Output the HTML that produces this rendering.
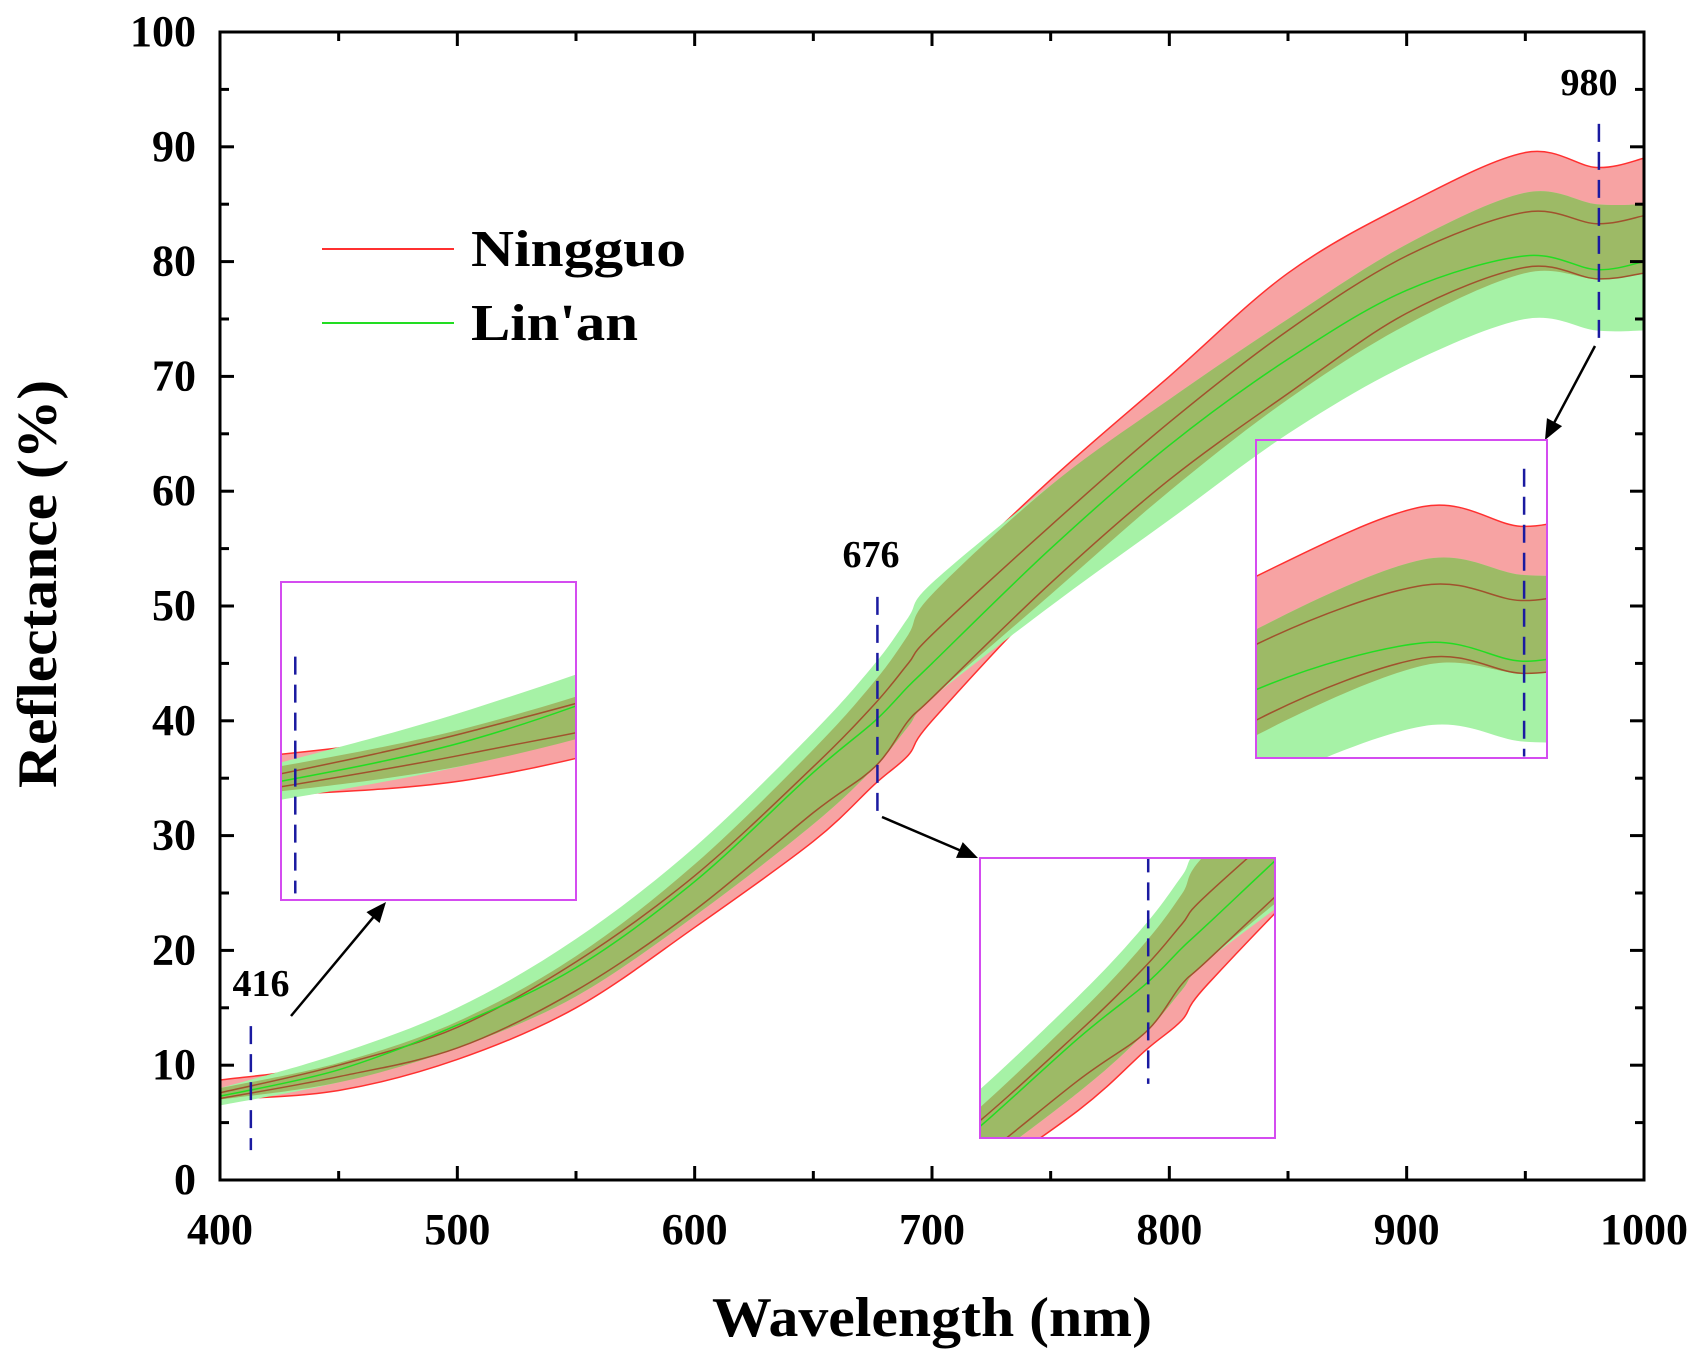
<!DOCTYPE html>
<html><head><meta charset="utf-8">
<style>
html,body{margin:0;padding:0;background:#fff;overflow:hidden;width:1704px;height:1360px;}
svg#chart{display:block;overflow:hidden;font-family:"Liberation Serif",serif;font-weight:bold;}
</style></head>
<body>
<svg id="chart" width="1704" height="1360" viewBox="0 0 1704 1360" xmlns="http://www.w3.org/2000/svg">
<defs>
<g id="marks"></g>
</defs>
<use href="#marks"/>
<g id="axes"></g>
<g id="insets"></g>
<g id="legend">
 <line x1="322" y1="249" x2="454" y2="249" stroke="#ff3030" stroke-width="2"/>
 <text x="471" y="266" font-size="52" textLength="215" lengthAdjust="spacingAndGlyphs">Ningguo</text>
 <line x1="322" y1="323" x2="454" y2="323" stroke="#22dd22" stroke-width="2"/>
 <text x="471" y="340" font-size="52" textLength="167" lengthAdjust="spacingAndGlyphs">Lin'an</text>
</g>
<text x="932" y="1336" font-size="56" text-anchor="middle" textLength="440" lengthAdjust="spacingAndGlyphs">Wavelength (nm)</text>
<text transform="translate(56,584) rotate(-90)" font-size="56" text-anchor="middle" textLength="408" lengthAdjust="spacingAndGlyphs">Reflectance (%)</text>
</svg>
<script>
const wavelengths=[400,450,500,550,600,650,676,690,700,750,800,850,900,950,980,1000];
const ningguoUpper=[8.7,10.2,13.8,19.5,27.5,37.5,43.5,47.5,51,61,70,79,85,89.5,88.2,89];
const ningguoLower=[7.0,7.8,10.5,15,22,29.5,34.5,37,40,51,60,68,74.5,79,78.5,79];
const linanUpper=[8.0,11,15,21,29,39,45,49,52,60.5,68,75,81.5,86,85,85];
const linanLower=[6.5,8.5,11.5,16,23,31,36,39.5,42,50,57.5,65,71,75,74,74];
const brownUpper=[7.6,10,13.3,19,26.5,36,41.5,45,47.5,57,66,74,80.5,84.3,83.3,84];
const linanMean=[7.3,9.6,13.5,18.5,26,35.5,40,43,45,55,64,71.5,77.5,80.5,79.3,80];
const brownLower=[7.1,9,11.5,16.5,23.5,32,36,40,42,52,61,68.5,75.5,79.5,78.5,79];
const markers=[416,676,980];
const markerPos=[413,677,981];
const markerTop=[13.4,50.8,92];
const markerBottom=[2.6,31.7,73];
const xTicks=[400,500,600,700,800,900,1000];
const yTicks=[0,10,20,30,40,50,60,70,80,90,100];

const NS="http://www.w3.org/2000/svg";
const X=nm=>220+(nm-400)*1424/600;
const Y=v=>1180-v*11.48;
function mk(tag,attrs,parent){const e=document.createElementNS(NS,tag);for(const k in attrs)e.setAttribute(k,attrs[k]);parent.appendChild(e);return e;}
function pts(vals){return wavelengths.map((w,i)=>[X(w),Y(vals[i])]);}
function curve(p){let d="M"+p[0][0]+","+p[0][1];for(let i=0;i<p.length-1;i++){const p0=p[i-1]||p[i],p1=p[i],p2=p[i+1],p3=p[i+2]||p2;
 const c1=[p1[0]+(p2[0]-p0[0])/6,p1[1]+(p2[1]-p0[1])/6],c2=[p2[0]-(p3[0]-p1[0])/6,p2[1]-(p3[1]-p1[1])/6];
 d+=" C"+c1+" "+c2+" "+p2;}return d;}
function band(up,lo){const a=pts(up),b=pts(lo).reverse();let d=curve(a);d+=" L"+b[0]+curve(b).slice(1).replace(/^[^C]*/," ");return d+"Z";}

const marks=document.getElementById('marks');
let e;
e=mk('path',{d:band(ningguoUpper,ningguoLower),fill:'#f7a3a3',stroke:'#ff3030','stroke-width':1.5,'vector-effect':'non-scaling-stroke'},marks);


e=mk('path',{d:band(linanUpper,linanLower),fill:'#a6f2a6'},marks);


const ovU=wavelengths.map((w,i)=>Math.min(ningguoUpper[i],linanUpper[i]));
const ovL=wavelengths.map((w,i)=>Math.max(ningguoLower[i],linanLower[i]));
e=mk('path',{d:band(ovU,ovL),fill:'#9dba66'},marks);


[[brownUpper,'#a0522d','brown-line-upper'],[brownLower,'#a0522d','brown-line-lower'],[linanMean,'#22dd22','linan-mean-line']].forEach(([v,c,n])=>{
 const p=mk('path',{d:curve(pts(v)),fill:'none',stroke:c,'stroke-width':1.5,'vector-effect':'non-scaling-stroke'},marks);
 
 
});
markers.forEach((m,i)=>{
 const l=mk('line',{x1:X(markerPos[i]),x2:X(markerPos[i]),y1:Y(markerTop[i]),y2:Y(markerBottom[i]),stroke:'#1a1aa0','stroke-width':2.5,'stroke-dasharray':'18 10','vector-effect':'non-scaling-stroke'},marks);
 
 
});

// axes
const ax=document.getElementById('axes');
e=mk('rect',{x:220,y:32,width:1424,height:1148,fill:'none',stroke:'#000','stroke-width':3},ax);


for(let w=400;w<=1000;w+=50){const L=(w%100===0)?14:9;
 mk('line',{x1:X(w),x2:X(w),y1:1180,y2:1180-L,stroke:'#000','stroke-width':3},ax);
 mk('line',{x1:X(w),x2:X(w),y1:32,y2:32+L,stroke:'#000','stroke-width':3},ax);}
for(let v=0;v<=100;v+=5){const L=(v%10===0)?14:9;
 mk('line',{x1:220,x2:220+L,y1:Y(v),y2:Y(v),stroke:'#000','stroke-width':3},ax);
 mk('line',{x1:1644,x2:1644-L,y1:Y(v),y2:Y(v),stroke:'#000','stroke-width':3},ax);}
xTicks.forEach(w=>{const t=mk('text',{x:X(w),y:1244,'font-size':44,'text-anchor':'middle'},ax);t.textContent=w;
 
 });
yTicks.forEach(v=>{const t=mk('text',{x:196,y:Y(v)+14,'font-size':44,'text-anchor':'end'},ax);t.textContent=v;
 
 });

// marker labels & arrows
const labs=[[416,261,996],[676,871,567],[980,1589,95]];
labs.forEach(([m,x,y])=>{const t=mk('text',{x:x,y:y,'font-size':38,'text-anchor':'middle'},ax);t.textContent=m;
 
 });
const arrows=[[291,1016,386,902],[882,817,978,858],[1595,346,1545,440]];
arrows.forEach(([x1,y1,x2,y2],i)=>{
 const g=mk('g',{},ax);
 
 
 const a=Math.atan2(y2-y1,x2-x1),h=22,s=0.4;
 mk('line',{x1,y1,x2:x2-Math.cos(a)*h*0.8,y2:y2-Math.sin(a)*h*0.8,stroke:'#000','stroke-width':2.5},g);
 mk('polygon',{points:[x2,y2,x2-h*Math.cos(a-s),y2-h*Math.sin(a-s),x2-h*Math.cos(a+s),y2-h*Math.sin(a+s)].join(','),fill:'#000'},g);
});

// insets: zoomed views of the same marks
const insetSpecs=[[281,582,295,318,410,472,16.8,2.3],[980,858,295,280,612,726,50.5,27.2],[1256,440,291,318,899,988,93.9,72.9]];
const ins=document.getElementById('insets');
insetSpecs.forEach(([x,y,w,h,n0,n1,v0,v1],i)=>{
 const s=mk('svg',{x,y,width:w,height:h,viewBox:[X(n0),Y(v0),X(n1)-X(n0),Y(v1)-Y(v0)].join(' '),preserveAspectRatio:'none'},ins);
 
 
 mk('use',{href:'#marks'},s);
 mk('rect',{x,y,width:w,height:h,fill:'none',stroke:'#d44cf0','stroke-width':2},ins);
});
</script>
</body></html>
